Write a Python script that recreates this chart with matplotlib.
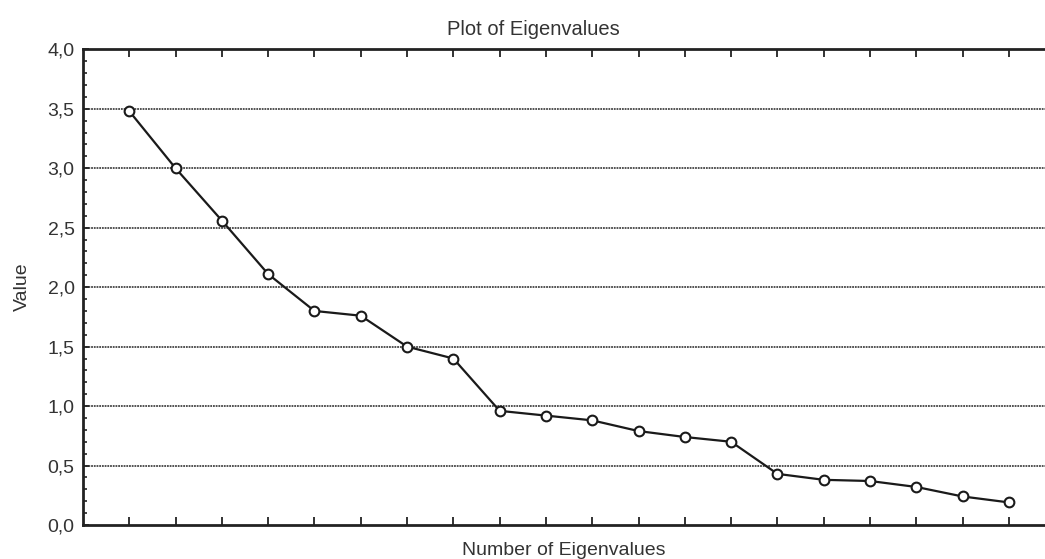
import matplotlib
matplotlib.use('Agg')
import matplotlib.pyplot as plt
from matplotlib.ticker import MultipleLocator, FuncFormatter

plt.rcParams['font.family'] = ['Liberation Sans', 'DejaVu Sans']

# numero do autovalor e o valor
numero = list(range(1, 21))
autovalores = [3.48, 3.00, 2.56, 2.11, 1.80, 1.76, 1.50, 1.40, 0.96, 0.92,
               0.88, 0.79, 0.74, 0.70, 0.43, 0.38, 0.37, 0.32, 0.24, 0.19]
y_ticks = [0.0, 0.5, 1.0, 1.5, 2.0, 2.5, 3.0, 3.5, 4.0]

fig = plt.figure(figsize=(10.45, 5.59), dpi=100)
ax = fig.add_axes([0.0794, 0.0608, 0.9206, 0.851])

# linhas de grade horizontais
for v in y_ticks[1:-1]:
    ax.axhline(v, color='#444444', linewidth=1.3, linestyle=(0, (1, 0.5)), zorder=1)

ax.plot(numero, autovalores, color='#1a1a1a', linewidth=1.6, marker='o',
        markersize=7, markerfacecolor='white', markeredgecolor='#1a1a1a',
        markeredgewidth=1.5, zorder=3)

ax.set_xlim(0, 20.78)
ax.set_ylim(0, 4.0)
ax.set_xticks(numero)
ax.set_xticklabels([])
ax.set_yticks(y_ticks)
ax.yaxis.set_minor_locator(MultipleLocator(0.1))
ax.yaxis.set_major_formatter(FuncFormatter(lambda v, p: f'{v:.1f}'.replace('.', ',')))

ax.tick_params(axis='x', direction='in', length=6, width=1.3, top=True, bottom=True, colors='#222222')
ax.tick_params(axis='y', which='major', direction='in', length=4, width=1.3, labelsize=14, colors='#222222', pad=6)
ax.tick_params(axis='y', which='minor', direction='in', length=3, width=1.2, colors='#222222')
ax.tick_params(axis='y', labelcolor='#333333')

for s in ['left', 'top', 'bottom']:
    ax.spines[s].set_linewidth(2)
    ax.spines[s].set_color('#222222')
ax.spines['right'].set_visible(False)

ax.set_title('Plot of Eigenvalues', fontsize=14.5, color='#333333', pad=10, x=0.468)
ax.set_xlabel('Number of Eigenvalues', fontsize=14, color='#333333', labelpad=9)
ax.set_ylabel('Value', fontsize=14, color='#333333', labelpad=12)

fig.savefig('out.png', dpi=100)
